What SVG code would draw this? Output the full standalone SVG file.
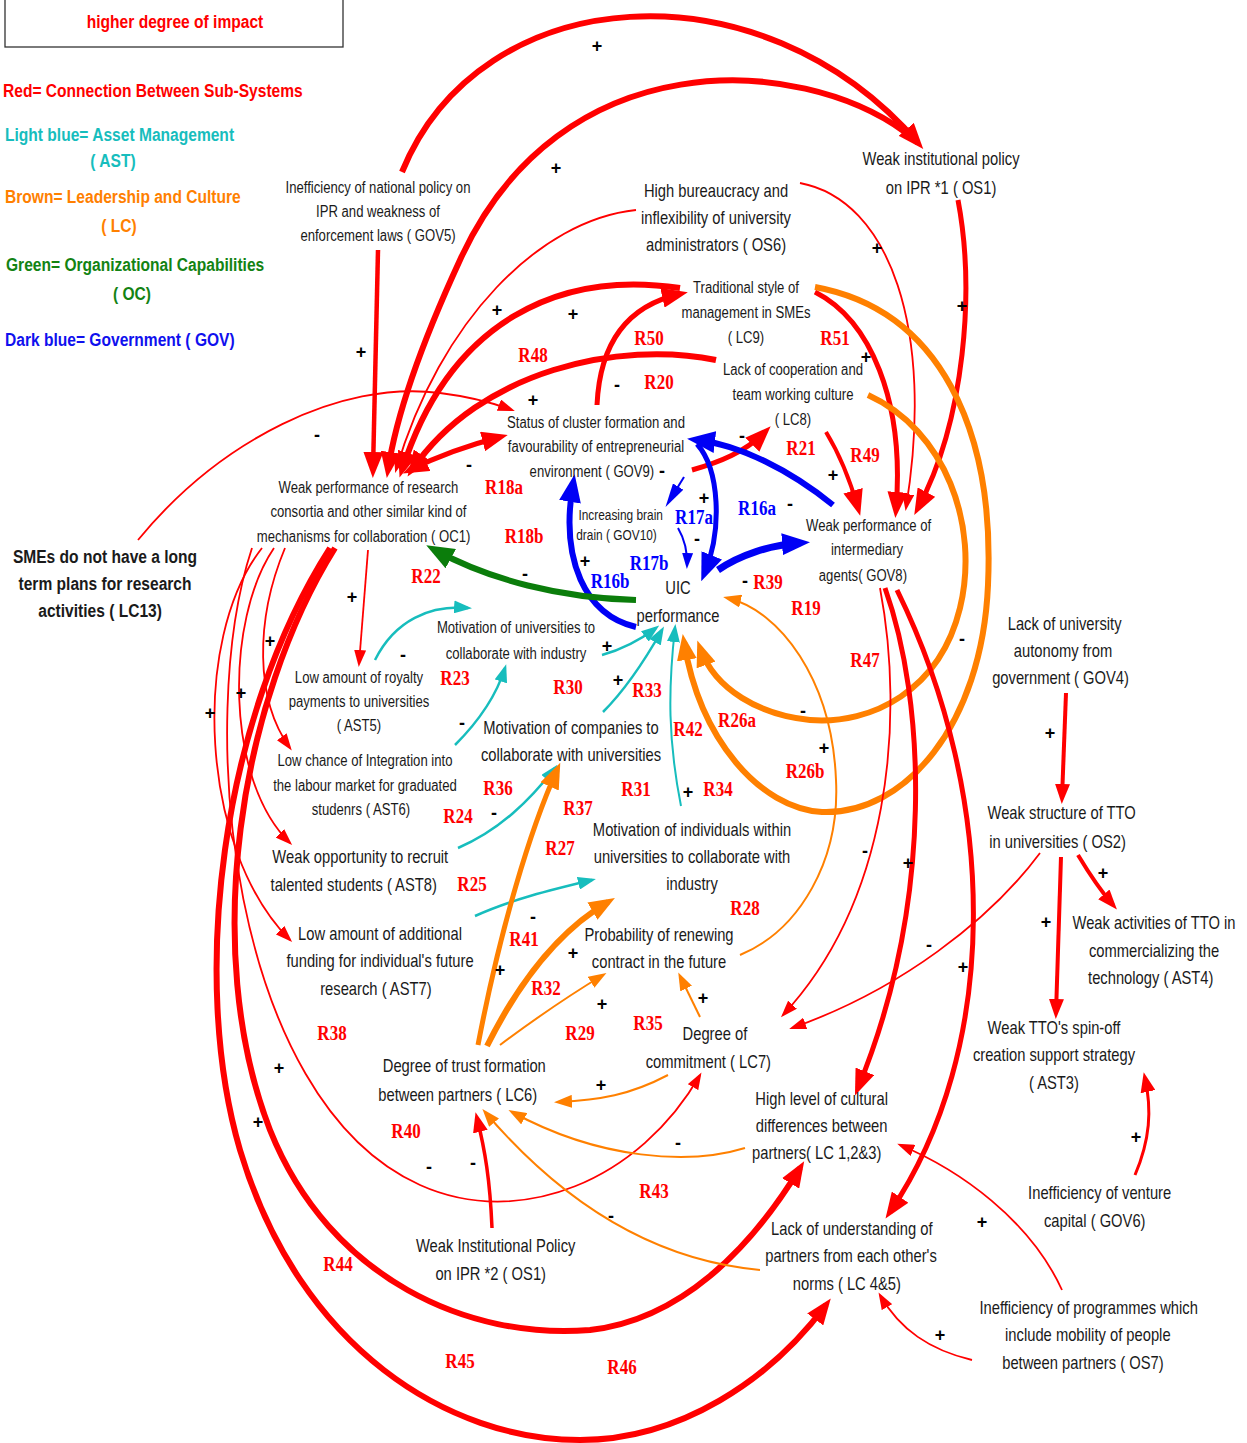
<svg xmlns="http://www.w3.org/2000/svg" width="1247" height="1443" viewBox="0 0 1247 1443">
<style>
  .n text{font-family:"Liberation Sans",Arial,sans-serif;fill:#1a1a1a;text-anchor:middle}
  .s14{font-size:14.5px}.s16{font-size:16px}.s18{font-size:18px}
  .bold{font-weight:bold;fill:#000}
  .lg{font-family:"Liberation Sans",Arial,sans-serif;font-weight:bold;font-size:19px}
  .lbl{font-family:"Liberation Serif","Times New Roman",serif;font-weight:bold;font-size:20px;fill:#f00;text-anchor:middle}
  .lbl.b{fill:#00f}
  .sg{font-family:"Liberation Sans",Arial,sans-serif;font-weight:bold;font-size:18px;fill:#000;text-anchor:middle}
  .c path{fill:none}
  .r{stroke:#f00}.o{stroke:#ff8000}.cy{stroke:#17bdbd}.bl{stroke:#0000f5}.gr{stroke:#0b7d0b}
</style>
<defs>
  <marker id="mRL" viewBox="0 0 26 20" refX="18" refY="10" markerWidth="26" markerHeight="20" markerUnits="userSpaceOnUse" orient="auto-start-reverse"><path d="M0,0L26,10L0,20z" fill="#f00"/></marker>
  <marker id="mRM" viewBox="0 0 20 15" refX="14" refY="7.5" markerWidth="20" markerHeight="15" markerUnits="userSpaceOnUse" orient="auto"><path d="M0,0L20,7.5L0,15z" fill="#f00"/></marker>
  <marker id="mRS" viewBox="0 0 17 12" refX="14" refY="6" markerWidth="17" markerHeight="12" markerUnits="userSpaceOnUse" orient="auto"><path d="M0,0L17,6L0,12z" fill="#f00"/></marker>
  <marker id="mOL" viewBox="0 0 26 20" refX="18" refY="10" markerWidth="26" markerHeight="20" markerUnits="userSpaceOnUse" orient="auto"><path d="M0,0L26,10L0,20z" fill="#ff8000"/></marker>
  <marker id="mOS" viewBox="0 0 18 13" refX="14" refY="6.5" markerWidth="18" markerHeight="13" markerUnits="userSpaceOnUse" orient="auto"><path d="M0,0L18,6.5L0,13z" fill="#ff8000"/></marker>
  <marker id="mC" viewBox="0 0 18 13" refX="14" refY="6.5" markerWidth="18" markerHeight="13" markerUnits="userSpaceOnUse" orient="auto"><path d="M0,0L18,6.5L0,13z" fill="#17bdbd"/></marker>
  <marker id="mBL" viewBox="0 0 28 22" refX="18" refY="11" markerWidth="28" markerHeight="22" markerUnits="userSpaceOnUse" orient="auto"><path d="M0,0L28,11L0,22z" fill="#0000f5"/></marker>
  <marker id="mBS" viewBox="0 0 16 11" refX="13" refY="5.5" markerWidth="16" markerHeight="11" markerUnits="userSpaceOnUse" orient="auto"><path d="M0,0L16,5.5L0,11z" fill="#0000f5"/></marker>
  <marker id="mBT" viewBox="0 0 24 12" refX="4" refY="6" markerWidth="24" markerHeight="12" markerUnits="userSpaceOnUse" orient="auto"><path d="M0,0L24,6L0,12z" fill="#0000f5"/></marker>
  <marker id="mG" viewBox="0 0 28 22" refX="18" refY="11" markerWidth="28" markerHeight="22" markerUnits="userSpaceOnUse" orient="auto"><path d="M0,0L28,11L0,22z" fill="#0b7d0b"/></marker>
</defs>
<rect width="1247" height="1443" fill="#fff"/>

<!-- legend -->
<g id="legend">
  <rect x="5" y="-2" width="338" height="49" fill="none" stroke="#333" stroke-width="1.3"/>
  <g transform="translate(175 0) scale(.82 1)"><text class="lg" y="28" fill="#f00" text-anchor="middle">higher degree of impact</text></g>
  <g transform="translate(3 0) scale(.82 1)"><text class="lg" y="97" fill="#f00">Red= Connection Between Sub-Systems</text></g>
  <g transform="translate(5 0) scale(.82 1)"><text class="lg" y="141" fill="#17bdbd">Light blue= Asset Management</text></g>
  <g transform="translate(113 0) scale(.82 1)"><text class="lg" y="167" fill="#17bdbd" text-anchor="middle">( AST)</text></g>
  <g transform="translate(5 0) scale(.82 1)"><text class="lg" y="203" fill="#ff8000">Brown= Leadership and Culture</text></g>
  <g transform="translate(119 0) scale(.82 1)"><text class="lg" y="232" fill="#ff8000" text-anchor="middle">( LC)</text></g>
  <g transform="translate(6 0) scale(.82 1)"><text class="lg" y="271" fill="#138313">Green= Organizational Capabilities</text></g>
  <g transform="translate(132 0) scale(.82 1)"><text class="lg" y="300" fill="#138313" text-anchor="middle">( OC)</text></g>
  <g transform="translate(5 0) scale(.82 1)"><text class="lg" y="346" fill="#1010ee">Dark blue= Government ( GOV)</text></g>
</g>

<!-- connectors -->
<g id="connectors" class="c">
  <path class="r" stroke-width="6" d="M402,172 C480,-20 760,-40 918,143" marker-end="url(#mRL)"/>
  <path class="r" stroke-width="6" d="M905,132 C800,55 560,40 460,260 Q400,390 388,470" marker-end="url(#mRL)"/>
  <path class="r" stroke-width="4.5" d="M378,250 L373,470" marker-end="url(#mRL)"/>
  <path class="r" stroke-width="1.8" d="M636,210 C540,220 440,320 396,470" marker-end="url(#mRS)"/>
  <path class="r" stroke-width="6" d="M680,288 C560,270 450,320 402,470" marker-end="url(#mRL)"/>
  <path class="r" stroke-width="6" d="M716,360 C620,340 480,370 412,470" marker-end="url(#mRL)"/>
  <path class="r" stroke-width="5" d="M410,470 Q450,450 500,437" marker-start="url(#mRL)" marker-end="url(#mRL)"/>
  <path class="r" stroke-width="1.8" d="M138,540 C220,440 340,380 440,393 Q480,398 512,410" marker-end="url(#mRS)"/>
  <path class="r" stroke-width="5" d="M597,405 C600,340 630,305 680,294" marker-end="url(#mRL)"/>
  <path class="r" stroke-width="5" d="M692,470 C720,462 745,452 765,432" marker-end="url(#mRL)"/>
  <path class="r" stroke-width="4" d="M826,432 C840,455 850,480 858,508" marker-end="url(#mRL)"/>
  <path class="r" stroke-width="5" d="M815,292 C870,320 905,400 896,510" marker-end="url(#mRL)"/>
  <path class="r" stroke-width="5" d="M958,200 C975,290 965,420 918,508" marker-end="url(#mRL)"/>
  <path class="r" stroke-width="1.8" d="M800,183 C890,200 935,330 906,508" marker-end="url(#mRS)"/>
  <path class="o" stroke-width="6" d="M815,287 C940,310 995,430 988,585 C982,725 905,815 822,812 C760,808 700,740 684,642" marker-end="url(#mOL)"/>
  <path class="o" stroke-width="6" d="M868,395 C945,430 980,525 960,608 C940,690 872,725 810,720 C760,715 715,690 700,648" marker-end="url(#mOL)"/>
  <path class="o" stroke-width="2" d="M740,955 C800,930 840,860 836,780 C832,680 780,610 727,598" marker-end="url(#mOS)"/>
  <path class="bl" stroke-width="6" d="M833,505 C790,470 740,445 697,440" marker-end="url(#mBL)"/>
  <path class="bl" stroke-width="7" d="M718,570 C740,555 770,545 800,543" marker-end="url(#mBL)"/>
  <path class="bl" stroke-width="5" d="M697,444 C720,470 722,530 705,572" marker-end="url(#mBL)"/>
  <path class="bl" stroke-width="2" d="M678,528 Q688,545 687,566" marker-end="url(#mBS)"/>
  <path class="bl" stroke-width="2" d="M684,477 L676,490" marker-end="url(#mBT)"/>
  <path class="bl" stroke-width="6" d="M636,627 C585,615 560,560 573,484" marker-end="url(#mBL)"/>
  <path class="gr" stroke-width="6" d="M636,600 C560,598 490,580 435,550" marker-end="url(#mG)"/>
  <path class="r" stroke-width="1.8" d="M368,550 L359,664" marker-end="url(#mRS)"/>
  <path class="r" stroke-width="1.8" d="M285,548 C255,620 255,700 290,748" marker-end="url(#mRS)"/>
  <path class="r" stroke-width="1.8" d="M274,548 C225,620 225,780 290,843" marker-end="url(#mRS)"/>
  <path class="r" stroke-width="1.8" d="M262,548 C190,640 200,850 290,940" marker-end="url(#mRS)"/>
  <path class="r" stroke-width="1.8" d="M252,548 C195,720 230,1100 420,1185 C520,1230 640,1180 700,1075" marker-end="url(#mRS)"/>
  <path class="r" stroke-width="6" d="M335,548 C240,700 200,950 270,1130 C330,1280 470,1340 590,1330 C680,1320 750,1250 800,1168" marker-end="url(#mRL)"/>
  <path class="r" stroke-width="6" d="M330,548 C220,720 190,980 240,1150 C300,1350 450,1440 580,1440 C680,1440 770,1380 826,1305" marker-end="url(#mRL)"/>
  <path class="cy" stroke-width="2.5" d="M375,660 C395,620 430,605 468,608" marker-end="url(#mC)"/>
  <path class="cy" stroke-width="2.5" d="M455,745 C475,725 495,700 505,668" marker-end="url(#mC)"/>
  <path class="cy" stroke-width="2.5" d="M458,848 C500,830 530,800 555,768" marker-end="url(#mC)"/>
  <path class="cy" stroke-width="2.5" d="M475,916 C510,900 550,890 592,880" marker-end="url(#mC)"/>
  <path class="cy" stroke-width="2.5" d="M602,655 C620,650 640,640 656,628" marker-end="url(#mC)"/>
  <path class="cy" stroke-width="2.5" d="M603,712 C625,690 645,660 662,630" marker-end="url(#mC)"/>
  <path class="cy" stroke-width="2" d="M681,806 C668,740 668,690 675,628" marker-end="url(#mC)"/>
  <path class="o" stroke-width="5" d="M478,1045 C500,930 530,830 557,770" marker-end="url(#mOL)"/>
  <path class="o" stroke-width="6" d="M487,1046 C520,980 560,930 608,902" marker-end="url(#mOL)"/>
  <path class="o" stroke-width="2" d="M500,1045 C540,1015 570,995 603,975" marker-end="url(#mOS)"/>
  <path class="o" stroke-width="2" d="M700,1017 L680,976" marker-end="url(#mOS)"/>
  <path class="o" stroke-width="2" d="M668,1075 C630,1095 600,1100 558,1102" marker-end="url(#mOS)"/>
  <path class="o" stroke-width="2" d="M745,1148 C690,1165 600,1160 512,1112" marker-end="url(#mOS)"/>
  <path class="o" stroke-width="2" d="M760,1270 C650,1260 560,1200 485,1112" marker-end="url(#mOS)"/>
  <path class="r" stroke-width="3.5" d="M492,1228 C490,1180 485,1150 477,1118" marker-end="url(#mRM)"/>
  <path class="r" stroke-width="1.8" d="M880,588 C905,720 890,900 783,1015" marker-end="url(#mRS)"/>
  <path class="r" stroke-width="1.8" d="M1040,853 C990,920 900,990 792,1028" marker-end="url(#mRS)"/>
  <path class="r" stroke-width="5" d="M885,588 C925,700 935,900 858,1088" marker-end="url(#mRL)"/>
  <path class="r" stroke-width="5" d="M897,590 C1000,800 1000,1050 890,1212" marker-end="url(#mRL)"/>
  <path class="r" stroke-width="1.8" d="M1062,1290 C1030,1220 960,1170 900,1145" marker-end="url(#mRS)"/>
  <path class="r" stroke-width="1.8" d="M972,1360 C930,1350 900,1330 880,1295" marker-end="url(#mRS)"/>
  <path class="r" stroke-width="3" d="M1135,1175 C1150,1140 1152,1110 1145,1078" marker-end="url(#mRM)"/>
  <path class="r" stroke-width="4" d="M1066,693 L1062,798" marker-end="url(#mRM)"/>
  <path class="r" stroke-width="4" d="M1078,855 C1090,875 1100,890 1113,905" marker-end="url(#mRM)"/>
  <path class="r" stroke-width="4" d="M1061,857 L1056,1013" marker-end="url(#mRM)"/>
</g>

<!-- polarity signs -->
<g id="signs" class="sg">
  <text x="597" y="52">+</text><text x="556" y="174">+</text><text x="877" y="254">+</text><text x="962" y="312">+</text>
  <text x="361" y="358">+</text><text x="497" y="316">+</text><text x="573" y="320">+</text><text x="866" y="363">+</text>
  <text x="533" y="406">+</text><text x="317" y="441">-</text><text x="617" y="391">-</text><text x="469" y="471">-</text>
  <text x="662" y="477">-</text><text x="742" y="442">-</text><text x="833" y="481">+</text><text x="704" y="504">+</text>
  <text x="790" y="510">-</text><text x="697" y="545">-</text><text x="585" y="567">+</text><text x="525" y="580">-</text>
  <text x="745" y="587">-</text><text x="352" y="603">+</text><text x="270" y="647">+</text><text x="241" y="699">+</text>
  <text x="210" y="719">+</text><text x="403" y="661">-</text><text x="607" y="652">+</text><text x="618" y="686">+</text>
  <text x="462" y="729">-</text><text x="962" y="645">-</text><text x="803" y="717">-</text><text x="824" y="754">+</text>
  <text x="1050" y="739">+</text><text x="494" y="819">-</text><text x="688" y="798">+</text><text x="865" y="857">-</text>
  <text x="908" y="869">+</text><text x="1103" y="879">+</text><text x="1046" y="928">+</text><text x="533" y="923">-</text>
  <text x="500" y="976">+</text><text x="573" y="959">+</text><text x="929" y="951">-</text><text x="963" y="973">+</text>
  <text x="602" y="1010">+</text><text x="703" y="1004">+</text><text x="279" y="1074">+</text><text x="601" y="1091">+</text>
  <text x="258" y="1128">+</text><text x="1136" y="1143">+</text><text x="678" y="1149">-</text><text x="429" y="1173">-</text>
  <text x="473" y="1169">-</text><text x="982" y="1228">+</text><text x="611" y="1222">-</text><text x="940" y="1341">+</text>
</g>

<!-- loop labels -->
<g id="loops">
  <text class="lbl" transform="translate(533 362) scale(.85 1)">R48</text>
  <text class="lbl" transform="translate(649 345) scale(.85 1)">R50</text>
  <text class="lbl" transform="translate(835 345) scale(.85 1)">R51</text>
  <text class="lbl" transform="translate(659 389) scale(.85 1)">R20</text>
  <text class="lbl" transform="translate(801 455) scale(.85 1)">R21</text>
  <text class="lbl" transform="translate(865 462) scale(.85 1)">R49</text>
  <text class="lbl" transform="translate(504 494) scale(.85 1)">R18a</text>
  <text class="lbl" transform="translate(524 543) scale(.85 1)">R18b</text>
  <text class="lbl" transform="translate(426 583) scale(.85 1)">R22</text>
  <text class="lbl b" transform="translate(757 515) scale(.85 1)">R16a</text>
  <text class="lbl b" transform="translate(694 524) scale(.85 1)">R17a</text>
  <text class="lbl b" transform="translate(649 570) scale(.85 1)">R17b</text>
  <text class="lbl b" transform="translate(610 588) scale(.85 1)">R16b</text>
  <text class="lbl" transform="translate(768 589) scale(.85 1)">R39</text>
  <text class="lbl" transform="translate(806 615) scale(.85 1)">R19</text>
  <text class="lbl" transform="translate(865 667) scale(.85 1)">R47</text>
  <text class="lbl" transform="translate(455 685) scale(.85 1)">R23</text>
  <text class="lbl" transform="translate(568 694) scale(.85 1)">R30</text>
  <text class="lbl" transform="translate(647 697) scale(.85 1)">R33</text>
  <text class="lbl" transform="translate(688 736) scale(.85 1)">R42</text>
  <text class="lbl" transform="translate(737 727) scale(.85 1)">R26a</text>
  <text class="lbl" transform="translate(805 778) scale(.85 1)">R26b</text>
  <text class="lbl" transform="translate(498 795) scale(.85 1)">R36</text>
  <text class="lbl" transform="translate(636 796) scale(.85 1)">R31</text>
  <text class="lbl" transform="translate(718 796) scale(.85 1)">R34</text>
  <text class="lbl" transform="translate(458 823) scale(.85 1)">R24</text>
  <text class="lbl" transform="translate(578 815) scale(.85 1)">R37</text>
  <text class="lbl" transform="translate(560 855) scale(.85 1)">R27</text>
  <text class="lbl" transform="translate(472 891) scale(.85 1)">R25</text>
  <text class="lbl" transform="translate(745 915) scale(.85 1)">R28</text>
  <text class="lbl" transform="translate(524 946) scale(.85 1)">R41</text>
  <text class="lbl" transform="translate(546 995) scale(.85 1)">R32</text>
  <text class="lbl" transform="translate(580 1040) scale(.85 1)">R29</text>
  <text class="lbl" transform="translate(648 1030) scale(.85 1)">R35</text>
  <text class="lbl" transform="translate(332 1040) scale(.85 1)">R38</text>
  <text class="lbl" transform="translate(406 1138) scale(.85 1)">R40</text>
  <text class="lbl" transform="translate(654 1198) scale(.85 1)">R43</text>
  <text class="lbl" transform="translate(338 1271) scale(.85 1)">R44</text>
  <text class="lbl" transform="translate(460 1368) scale(.85 1)">R45</text>
  <text class="lbl" transform="translate(622 1374) scale(.85 1)">R46</text>
</g>

<!-- variables -->
<g id="gov5" class="n" transform="translate(378 0) scale(.82 1)"><text class="s16"><tspan x="0" y="193">Inefficiency of national policy on</tspan><tspan x="0" y="217">IPR and weakness of</tspan><tspan x="0" y="241">enforcement laws ( GOV5)</tspan></text></g>
<g id="os6" class="n" transform="translate(716 0) scale(.82 1)"><text class="s18"><tspan x="0" y="197">High bureaucracy and</tspan><tspan x="0" y="224">inflexibility of university</tspan><tspan x="0" y="251">administrators ( OS6)</tspan></text></g>
<g id="os1-top" class="n" transform="translate(941 0) scale(.82 1)"><text class="s18"><tspan x="0" y="165">Weak institutional policy</tspan><tspan x="0" y="194">on IPR *1 ( OS1)</tspan></text></g>
<g id="lc9" class="n" transform="translate(746 0) scale(.82 1)"><text class="s16"><tspan x="0" y="293">Traditional style of</tspan><tspan x="0" y="318">management in SMEs</tspan><tspan x="0" y="343">( LC9)</tspan></text></g>
<g id="lc8" class="n" transform="translate(793 0) scale(.82 1)"><text class="s16"><tspan x="0" y="375">Lack of cooperation and</tspan><tspan x="0" y="400">team working culture</tspan><tspan x="0" y="425">( LC8)</tspan></text></g>
<g id="gov9" class="n" transform="translate(596 0) scale(.82 1)"><text class="s16"><tspan x="0" y="428">Status of cluster formation and</tspan><tspan x="0" y="452">favourability of entrepreneurial</tspan><tspan x="-5" y="477">environment ( GOV9)</tspan></text></g>
<g id="oc1" class="n" transform="translate(366 0) scale(.82 1)"><text class="s16"><tspan x="3" y="493">Weak performance of research</tspan><tspan x="3" y="517">consortia and other similar kind of</tspan><tspan x="-3" y="542">mechanisms for collaboration ( OC1)</tspan></text></g>
<g id="gov10" class="n" transform="translate(619 0) scale(.82 1)"><text class="s14"><tspan x="2" y="520">Increasing brain</tspan><tspan x="-3" y="540">drain ( GOV10)</tspan></text></g>
<g id="gov8" class="n" transform="translate(867 0) scale(.82 1)"><text class="s16"><tspan x="2" y="531">Weak performance of</tspan><tspan x="0" y="555">intermediary</tspan><tspan x="-5" y="581">agents( GOV8)</tspan></text></g>
<g id="uic" class="n" transform="translate(678 0) scale(.82 1)"><text class="s18"><tspan x="0" y="594">UIC</tspan><tspan x="0" y="622">performance</tspan></text></g>
<g id="lc13" class="n" transform="translate(105 0) scale(.82 1)"><text class="s18 bold" style="font-size:19px"><tspan x="0" y="563">SMEs do not have a long</tspan><tspan x="0" y="590">term plans for research</tspan><tspan x="-6" y="617">activities ( LC13)</tspan></text></g>
<g id="gov4" class="n" transform="translate(1063 0) scale(.82 1)"><text class="s18"><tspan x="2" y="630">Lack of university</tspan><tspan x="0" y="657">autonomy from</tspan><tspan x="-3" y="684">government ( GOV4)</tspan></text></g>
<g id="mot-univ" class="n" transform="translate(516 0) scale(.82 1)"><text class="s16"><tspan x="0" y="633">Motivation of universities to</tspan><tspan x="0" y="659">collaborate with industry</tspan></text></g>
<g id="ast5" class="n" transform="translate(359 0) scale(.82 1)"><text class="s16"><tspan x="0" y="683">Low amount of royalty</tspan><tspan x="0" y="707">payments to universities</tspan><tspan x="0" y="731">( AST5)</tspan></text></g>
<g id="mot-comp" class="n" transform="translate(571 0) scale(.82 1)"><text class="s18"><tspan x="0" y="734">Motivation of companies to</tspan><tspan x="0" y="761">collaborate with universities</tspan></text></g>
<g id="ast6" class="n" transform="translate(365 0) scale(.82 1)"><text class="s16"><tspan x="0" y="766">Low chance of Integration into</tspan><tspan x="0" y="791">the labour market for graduated</tspan><tspan x="-5" y="815">studenrs ( AST6)</tspan></text></g>
<g id="mot-ind" class="n" transform="translate(692 0) scale(.82 1)"><text class="s18"><tspan x="0" y="836">Motivation of individuals within</tspan><tspan x="0" y="863">universities to collaborate with</tspan><tspan x="0" y="890">industry</tspan></text></g>
<g id="ast8" class="n" transform="translate(357 0) scale(.82 1)"><text class="s18"><tspan x="4" y="863">Weak opportunity to recruit</tspan><tspan x="-4" y="891">talented students ( AST8)</tspan></text></g>
<g id="os2" class="n" transform="translate(1060 0) scale(.82 1)"><text class="s18"><tspan x="2" y="819">Weak structure of TTO</tspan><tspan x="-3" y="848">in universities ( OS2)</tspan></text></g>
<g id="ast4" class="n" transform="translate(1154 0) scale(.82 1)"><text class="s18"><tspan x="0" y="929">Weak activities of TTO in</tspan><tspan x="0" y="957">commercializing the</tspan><tspan x="-4" y="984">technology ( AST4)</tspan></text></g>
<g id="ast7" class="n" transform="translate(380 0) scale(.82 1)"><text class="s18"><tspan x="0" y="940">Low amount of additional</tspan><tspan x="0" y="967">funding for individual's future</tspan><tspan x="-5" y="995">research ( AST7)</tspan></text></g>
<g id="prob" class="n" transform="translate(659 0) scale(.82 1)"><text class="s18"><tspan x="0" y="941">Probability of renewing</tspan><tspan x="0" y="968">contract in the future</tspan></text></g>
<g id="lc7" class="n" transform="translate(710 0) scale(.82 1)"><text class="s18"><tspan x="6" y="1040">Degree of</tspan><tspan x="-2" y="1068">commitment ( LC7)</tspan></text></g>
<g id="lc6" class="n" transform="translate(461 0) scale(.82 1)"><text class="s18"><tspan x="4" y="1072">Degree of trust formation</tspan><tspan x="-4" y="1101">between partners ( LC6)</tspan></text></g>
<g id="ast3" class="n" transform="translate(1054 0) scale(.82 1)"><text class="s18"><tspan x="0" y="1034">Weak TTO's spin-off</tspan><tspan x="0" y="1061">creation support strategy</tspan><tspan x="0" y="1089">( AST3)</tspan></text></g>
<g id="lc123" class="n" transform="translate(820 0) scale(.82 1)"><text class="s18"><tspan x="2" y="1105">High level of cultural</tspan><tspan x="2" y="1132">differences between</tspan><tspan x="-4" y="1159">partners( LC 1,2&amp;3)</tspan></text></g>
<g id="gov6" class="n" transform="translate(1098 0) scale(.82 1)"><text class="s18"><tspan x="2" y="1199">Inefficiency of venture</tspan><tspan x="-4" y="1227">capital ( GOV6)</tspan></text></g>
<g id="lc45" class="n" transform="translate(851 0) scale(.82 1)"><text class="s18"><tspan x="1" y="1235">Lack of understanding of</tspan><tspan x="0" y="1262">partners from each other's</tspan><tspan x="-5" y="1290">norms ( LC 4&amp;5)</tspan></text></g>
<g id="os1-bottom" class="n" transform="translate(494 0) scale(.82 1)"><text class="s18"><tspan x="2" y="1252">Weak Institutional Policy</tspan><tspan x="-4" y="1280">on IPR *2 ( OS1)</tspan></text></g>
<g id="os7" class="n" transform="translate(1087 0) scale(.82 1)"><text class="s18"><tspan x="2" y="1314">Inefficiency of programmes which</tspan><tspan x="1" y="1341">include mobility of people</tspan><tspan x="-5" y="1369">between partners ( OS7)</tspan></text></g>
</svg>
